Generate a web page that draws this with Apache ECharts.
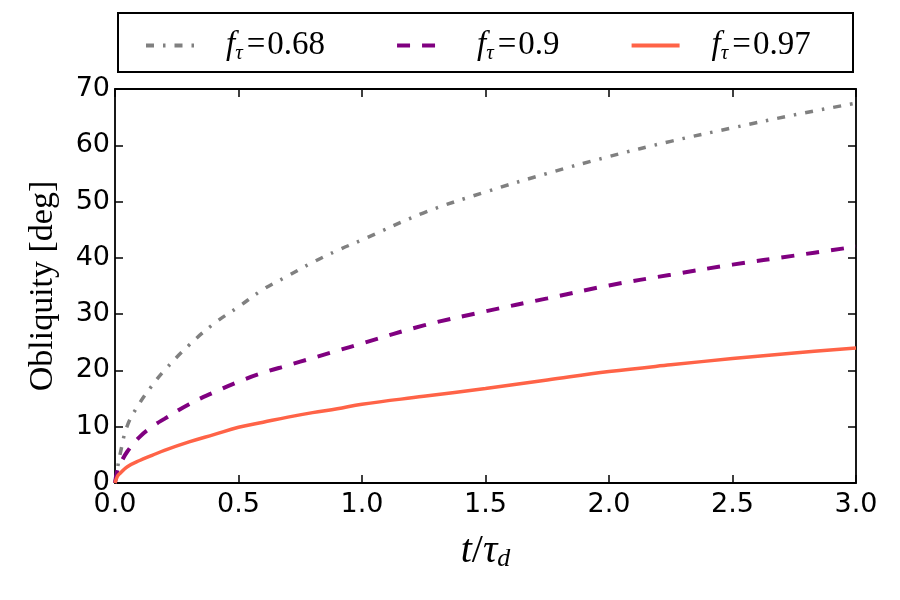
<!DOCTYPE html>
<html>
<head>
<meta charset="utf-8">
<script src="https://cdn.jsdelivr.net/npm/echarts@6/dist/echarts.min.js"></script>
<style>
  html, body { margin: 0; padding: 0; background: #fff; }
  #main { width: 900px; height: 600px; }
</style>
</head>
<body>
<div id="main"></div>
<script>
// t / tau_d sample points
const tValues = [0, 0.01, 0.02, 0.05, 0.1, 0.15, 0.2, 0.3, 0.4, 0.5, 0.6, 0.7, 0.8, 0.9, 1.0,
  1.25, 1.5, 1.75, 2.0, 2.25, 2.5, 2.75, 3.0];
// obliquity [deg] for each f_tau
const obl068 = [0, 2.6, 5.0, 10.2, 14.2, 17.3, 20.0, 24.5, 28.3, 31.3, 34.4, 36.8, 39.2, 41.3, 43.2,
  48.0, 51.7, 55.0, 58.0, 60.7, 63.1, 65.4, 67.5];
const obl090 = [0, 2.3, 3.3, 5.6, 8.2, 10.0, 11.4, 14.0, 16.1, 18.0, 19.6, 20.9, 22.2, 23.5, 24.8,
  28.0, 30.5, 32.8, 35.1, 37.0, 38.8, 40.4, 42.0];
const obl097 = [0, 1.2, 1.7, 2.9, 4.0, 4.9, 5.8, 7.3, 8.6, 9.9, 10.8, 11.7, 12.5, 13.2, 14.0,
  15.4, 16.8, 18.3, 19.8, 21.0, 22.1, 23.1, 24.0];
const seriesNames = ['0.68', '0.9', '0.97'];

const pairs = (ys) => tValues.map((t, i) => [t, ys[i]]);

const serif = '"Liberation Serif", "DejaVu Serif", serif';
const sans = '"DejaVu Sans", sans-serif';

var myChart = echarts.init(document.getElementById('main'));

// mirrored axes (top / right) only carry ticks
const tickStyle = { show: true, inside: true, length: 8, lineStyle: { color: '#000', width: 1.5 } };
const frameLine = { show: true, onZero: false, lineStyle: { color: '#000', width: 1.8 } };

myChart.setOption({
  animation: false,
  backgroundColor: '#fff',
  grid: { left: 115, right: 44, top: 89, bottom: 117 },
  graphic: [
    {
      type: 'rect',
      shape: { x: 118, y: 13, width: 735, height: 59 },
      style: { fill: 'none', stroke: '#000', lineWidth: 2 },
      z: 0
    }
  ],
  legend: {
    left: 139,
    top: 24,
    itemWidth: 48,
    itemHeight: 14,
    itemGap: 70,
    data: seriesNames,
    itemStyle: { opacity: 0 },
    lineStyle: { width: 4 },
    formatter: (name) => '{sp|}{f|f}{s|τ}{e|=}{n|' + name + '}',
    textStyle: {
      rich: {
        sp: { width: 27 },
        f: { fontFamily: serif, fontStyle: 'italic', fontSize: 33, color: '#000', lineHeight: 36 },
        s: { fontFamily: serif, fontStyle: 'italic', fontSize: 21, color: '#000', verticalAlign: 'bottom', lineHeight: 22 },
        e: { fontFamily: serif, fontSize: 33, color: '#000', lineHeight: 36, padding: [0, 2, 0, 4] },
        n: { fontFamily: serif, fontSize: 33, color: '#000', lineHeight: 36 }
      }
    }
  },
  xAxis: [
    {
      type: 'value',
      min: 0,
      max: 3,
      interval: 0.5,
      name: '{t|t}{n|/}{t|τ}{d|d}',
      nameLocation: 'middle',
      nameGap: 47,
      nameTextStyle: {
        rich: {
          t: { fontFamily: serif, fontStyle: 'italic', fontSize: 40, color: '#000', lineHeight: 42 },
          n: { fontFamily: serif, fontSize: 40, color: '#000', lineHeight: 42 },
          d: { fontFamily: serif, fontStyle: 'italic', fontSize: 26, color: '#000', verticalAlign: 'bottom', lineHeight: 24 }
        }
      },
      axisLine: frameLine,
      axisTick: tickStyle,
      splitLine: { show: false },
      axisLabel: {
        margin: 8,
        fontFamily: sans,
        fontSize: 27,
        color: '#000',
        formatter: (v) => v.toFixed(1)
      }
    },
    {
      type: 'value',
      position: 'top',
      min: 0,
      max: 3,
      interval: 0.5,
      axisLine: frameLine,
      axisTick: tickStyle,
      axisLabel: { show: false },
      splitLine: { show: false }
    }
  ],
  yAxis: [
    {
      type: 'value',
      min: 0,
      max: 70,
      interval: 10,
      name: 'Obliquity [deg]',
      nameLocation: 'middle',
      nameGap: 55,
      nameTextStyle: { fontFamily: serif, fontSize: 34, color: '#000' },
      axisLine: frameLine,
      axisTick: tickStyle,
      splitLine: { show: false },
      axisLabel: { margin: 5, fontFamily: sans, fontSize: 27, color: '#000' }
    },
    {
      type: 'value',
      position: 'right',
      min: 0,
      max: 70,
      interval: 10,
      axisLine: frameLine,
      axisTick: tickStyle,
      axisLabel: { show: false },
      splitLine: { show: false }
    }
  ],
  series: [
    {
      name: '0.68',
      type: 'line',
      symbol: 'none',
      smooth: 0.4,
      data: pairs(obl068),
      lineStyle: { color: '#808080', width: 3.5, type: [8, 9, 2.5, 9] },
      itemStyle: { color: '#808080' }
    },
    {
      name: '0.9',
      type: 'line',
      symbol: 'none',
      smooth: 0.4,
      data: pairs(obl090),
      lineStyle: { color: '#800080', width: 4, type: [13, 12] },
      itemStyle: { color: '#800080' }
    },
    {
      name: '0.97',
      type: 'line',
      symbol: 'none',
      smooth: 0.4,
      data: pairs(obl097),
      lineStyle: { color: '#FF6347', width: 3.5, type: 'solid' },
      itemStyle: { color: '#FF6347' }
    }
  ]
});
</script>
</body>
</html>
